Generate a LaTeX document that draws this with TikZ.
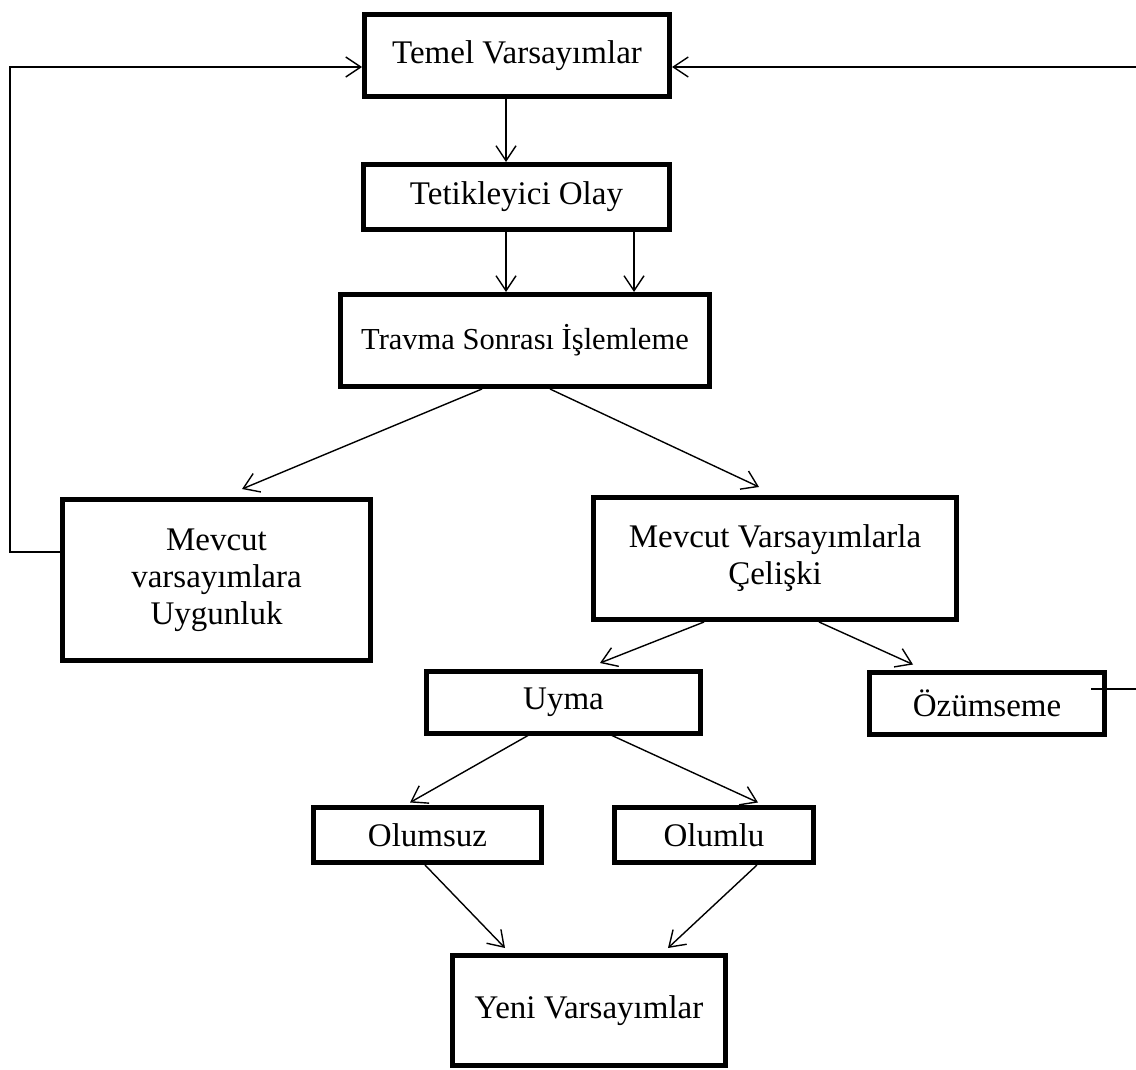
\documentclass[tikz,border=0pt]{standalone}
\usepackage{fontspec}
\setmainfont{Liberation Serif}
\usetikzlibrary{arrows.meta,calc}
\begin{document}
\begin{tikzpicture}[x=1pt,y=-1pt,
  box/.style={draw,line width=5pt,inner sep=0pt,align=center,
    font=\fontsize{33}{37}\selectfont},
  conn/.style={line width=1.4pt},
  arr/.style={conn,-{Straight Barb[length=15pt,width=20pt,line width=1.4pt]}}]
\useasboundingbox (0,0) rectangle (1136,1070);
\fill[white] (0,0) rectangle (1136,1070);
\node[box,minimum width=305pt,minimum height=82pt] (temel) at (517,55.5) {Temel Varsayımlar};
\node[box,minimum width=306pt,minimum height=65pt] (tetik) at (516.5,197) {Tetikleyici Olay};
\node[box,minimum width=369pt,minimum height=92pt,font=\fontsize{30.5}{35}\selectfont] (trav) at (525,340.5) {Travma Sonrası İşlemleme};
\node[box,minimum width=308pt,minimum height=161pt] (mv1) at (216.5,580) {Mevcut\\varsayımlara\\Uygunluk};
\node[box,minimum width=363pt,minimum height=122pt] (mv2) at (775,558.5) {Mevcut Varsayımlarla\\Çelişki};
\node[box,minimum width=274pt,minimum height=62pt] (uyma) at (563.5,702) {Uyma};
\node[box,minimum width=235pt,minimum height=62pt] (ozum) at (987,703.5) {Özümseme};
\node[box,minimum width=228pt,minimum height=55pt] (olsuz) at (427.5,835) {Olumsuz};
\node[box,minimum width=199pt,minimum height=55pt] (olmlu) at (714,835) {Olumlu};
\node[box,minimum width=273pt,minimum height=110pt] (yeni) at (589,1010.5) {Yeni Varsayımlar};

\draw[arr] ([xshift=-11pt]temel.south) -- ([xshift=-11pt]temel.south |- tetik.north);
\draw[arr] ([xshift=-10.5pt]tetik.south) -- ([xshift=-10.5pt]tetik.south |- trav.north);
\draw[arr] ([xshift=117.5pt]tetik.south) -- ([xshift=117.5pt]tetik.south |- trav.north);
\draw[arr] ([xshift=-43pt]trav.south) -- ([xshift=25.5pt,yshift=8pt]mv1.north);
\draw[arr] ([xshift=25pt]trav.south) -- ([xshift=-16pt,yshift=8pt]mv2.north);
\draw[arr] ([xshift=-71pt]mv2.south) -- ([xshift=36.5pt,yshift=5.5pt]uyma.north);
\draw[arr] ([xshift=44pt]mv2.south) -- ([xshift=-74pt,yshift=5.5pt]ozum.north);
\draw[arr] ([xshift=-35.5pt]uyma.south) -- ([xshift=-17.5pt,yshift=2.5pt]olsuz.north);
\draw[arr] ([xshift=48.5pt]uyma.south) -- ([xshift=44pt,yshift=2.5pt]olmlu.north);
\draw[arr] ([xshift=-2.5pt]olsuz.south) -- ([xshift=-84pt,yshift=5pt]yeni.north);
\draw[arr] ([xshift=43pt]olmlu.south) -- ([xshift=79pt,yshift=5pt]yeni.north);

\coordinate (lc) at (10,552);
\draw[arr] ([yshift=28pt]mv1.west) -- (lc) |- ([yshift=-11.5pt]temel.west);
\coordinate (rc) at (1145,689);
\draw[arr] ([xshift=104pt,yshift=14.5pt]ozum.center) -- (rc) |- ([yshift=-11.5pt]temel.east);
\end{tikzpicture}
\end{document}
